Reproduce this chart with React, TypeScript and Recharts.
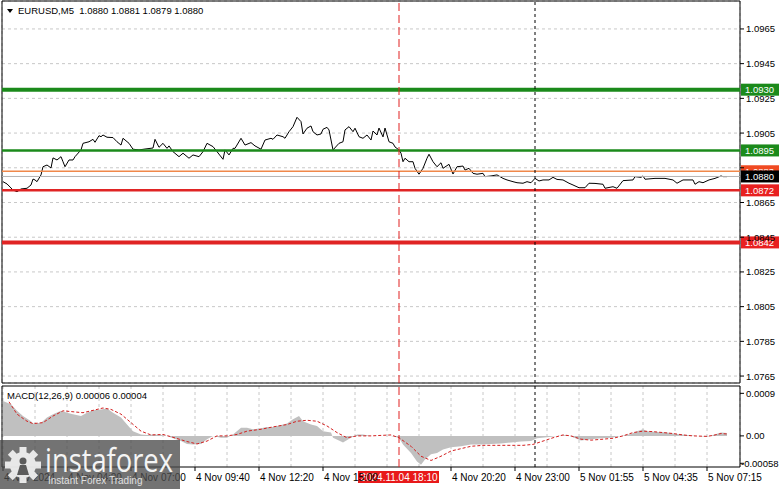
import React from 'react';
import {
  ComposedChart,
  Line,
  Area,
  XAxis,
  YAxis,
  CartesianGrid,
  ReferenceLine,
  ReferenceArea,
} from 'recharts';

const FONT = '"Liberation Sans", Arial, sans-serif';

// ---------- text ----------
const symbolTitle = 'EURUSD,M5  1.0880 1.0881 1.0879 1.0880';
const macdTitle = 'MACD(12,26,9) 0.00006 0.00004';

// ---------- price (bar index, close) ----------
const pricePoints: [number, number][] = [
  [0, 1.0877], [2, 1.08757], [5, 1.08722], [7, 1.08712], [9, 1.08728], [12, 1.08732], [14, 1.08751],
  [15, 1.08785], [16, 1.0878], [17, 1.0877], [19, 1.08809], [20, 1.08856], [22, 1.08866], [24, 1.08849],
  [25, 1.08907], [27, 1.08895], [29, 1.08914], [30, 1.08885], [31, 1.08856], [33, 1.08895], [35, 1.08895],
  [36, 1.08914], [39, 1.08953], [40, 1.08991], [43, 1.09], [45, 1.09014], [46, 1.08997], [48, 1.09035],
  [49, 1.09029], [50, 1.09039], [52, 1.09026], [55, 1.09024], [57, 1.09], [59, 1.08981], [60, 1.0902],
  [63, 1.08991], [65, 1.08957], [68, 1.08953], [71, 1.08958], [75, 1.08964], [76, 1.09014], [78, 1.08968],
  [80, 1.08991], [82, 1.08962], [83, 1.08976], [85, 1.08943], [88, 1.08914], [90, 1.08934], [93, 1.08905],
  [95, 1.08924], [98, 1.08914], [100, 1.08943], [102, 1.08991], [105, 1.08972], [107, 1.08943], [110, 1.08899],
  [111, 1.08953], [113, 1.08924], [115, 1.08962], [116, 1.08962], [119, 1.0902], [121, 1.08981], [124, 1.08995],
  [126, 1.08976], [129, 1.08957], [131, 1.0901], [134, 1.0902], [135, 1.09014], [137, 1.09039], [140, 1.09029],
  [141, 1.0902], [143, 1.09058], [145, 1.09087], [147, 1.09141], [149, 1.09116], [150, 1.09045], [152, 1.09078],
  [154, 1.09091], [155, 1.09058], [157, 1.09039], [159, 1.09045], [160, 1.09072], [162, 1.09083], [163, 1.09068],
  [165, 1.08953], [168, 1.08991], [170, 1.09], [171, 1.09068], [173, 1.09087], [175, 1.09058], [176, 1.09078],
  [178, 1.09029], [180, 1.0902], [182, 1.09039], [184, 1.0901], [185, 1.09062], [187, 1.09039], [188, 1.09079],
  [190, 1.09028], [191, 1.09079], [193, 1.09], [195, 1.08991], [196, 1.0897], [198, 1.08953], [199, 1.08934],
  [200, 1.08885], [201, 1.08905], [203, 1.08885], [205, 1.08885], [206, 1.08847], [208, 1.08813], [210, 1.08847],
  [212, 1.08905], [213, 1.08928], [215, 1.08885], [217, 1.08856], [219, 1.08879], [220, 1.08847], [223, 1.0887],
  [225, 1.08814], [227, 1.08856], [230, 1.0886], [231, 1.08837], [233, 1.08847], [235, 1.08818], [237, 1.08813],
  [240, 1.08818], [241, 1.08799], [244, 1.08803], [247, 1.08809], [250, 1.08789], [252, 1.0878], [255, 1.0877],
  [257, 1.08764], [260, 1.08761], [262, 1.0877], [264, 1.08764], [266, 1.08789], [268, 1.08774], [270, 1.0878],
  [273, 1.0878], [275, 1.08795], [277, 1.08783], [280, 1.0878], [283, 1.08761], [285, 1.08751], [288, 1.08735],
  [291, 1.08735], [293, 1.08761], [296, 1.0876], [300, 1.08755], [301, 1.08732], [305, 1.08741], [307, 1.08732],
  [310, 1.08776], [315, 1.0878], [316, 1.08799], [319, 1.08795], [320, 1.08803], [321, 1.08784], [326, 1.08789],
  [331, 1.08789], [335, 1.0878], [337, 1.08761], [340, 1.0878], [343, 1.0878], [345, 1.0878], [346, 1.08755],
  [348, 1.0877], [350, 1.08764], [353, 1.0878], [356, 1.08789], [359, 1.08803], [360, 1.08799], [362, 1.08799],
];

// ---------- MACD histogram (bar index, value) ----------
const histPoints: [number, number][] = [
  [0, 0.00074], [4, 0.00067], [7, 0.00053], [10, 0.00042], [14, 0.00031], [15, 0.00026], [19, 0.00028],
  [22, 0.00039], [25, 0.00046], [29, 0.00053], [32, 0.00049], [35, 0.00046], [39, 0.00042], [42, 0.00049],
  [45, 0.00054], [49, 0.00056], [52, 0.00058], [55, 0.00049], [59, 0.00039], [62, 0.00024], [65, 0.0001],
  [69, 0.00003], [72, 0.00002], [75, 0.00003], [79, 0.00002], [82, 0], [85, -0.00005], [89, -0.00011],
  [92, -0.00017], [95, -0.00018], [99, -0.00017], [102, -0.00007], [105, 0], [109, -0.00004], [112, -0.00004],
  [115, 0.00003], [119, 0.00017], [122, 0.00017], [125, 0.00014], [129, 0.00016], [132, 0.00019], [135, 0.00019],
  [139, 0.00023], [142, 0.00026], [145, 0.00035], [148, 0.00042], [150, 0.00031], [154, 0.00024], [157, 0.00021],
  [160, 0.0001], [164, 0.00007], [165, -0.00004], [169, -0.00012], [170, -0.00014], [174, -0.00004], [177, 0.00003],
  [180, 0.00003], [184, 0], [194, 0], [198, -0.00004], [200, -0.00018], [204, -0.00036], [207, -0.00054],
  [209, -0.00061], [211, -0.0005], [214, -0.00039], [217, -0.00036], [220, -0.00029], [224, -0.00024],
  [229, -0.00022], [234, -0.00018], [239, -0.00018], [244, -0.00017], [249, -0.00016], [254, -0.00014],
  [259, -0.00012], [264, -0.00011], [267, -0.00005], [272, -0.00003], [277, 0], [282, 0.00002], [285, -0.00003],
  [289, -0.0001], [294, -0.00007], [299, -0.00005], [304, -0.00004], [309, 0], [314, 0.00004], [317, 0.0001],
  [320, 0.00014], [322, 0.0001], [327, 0.00008], [332, 0.00007], [337, 0.00004], [342, 0.00002], [347, 0],
  [352, -0.00002], [355, 0.00002], [359, 0.00007], [362, 0.00006],
];

// ---------- MACD signal (bar index, value) ----------
const signalPoints: [number, number][] = [
  [3, 0.00072], [7, 0.00046], [12, 0.00031], [15, 0.00026], [20, 0.00028], [25, 0.00042], [30, 0.00053],
  [35, 0.00051], [40, 0.00049], [45, 0.00054], [50, 0.00059], [54, 0.00056], [59, 0.00046], [64, 0.00028],
  [69, 0.0001], [74, 0.00002], [80, 0.00003], [85, -0.00003], [92, -0.00012], [97, -0.00017], [102, -0.00011],
  [107, 0], [112, 0], [117, 0.00003], [122, 0.0001], [129, 0.00014], [135, 0.00019], [142, 0.00024],
  [147, 0.00031], [152, 0.00033], [157, 0.00031], [162, 0.00021], [167, 0.00007], [172, -0.00004], [177, 0],
  [184, 0], [194, 0.00002], [198, -0.00004], [204, -0.00022], [209, -0.00043], [214, -0.00052], [219, -0.00043],
  [224, -0.00032], [229, -0.00027], [234, -0.00022], [240, -0.0002], [247, -0.0002], [254, -0.0002],
  [260, -0.0002], [265, -0.00018], [270, -0.00011], [275, -0.00004], [280, 0.00002], [284, 0], [289, -0.00007],
  [294, -0.00009], [300, -0.00007], [305, -0.00005], [310, 0], [315, 0.00007], [320, 0.0001], [325, 0.00009],
  [330, 0.00007], [335, 0.00005], [340, 0.00002], [345, 0], [352, -0.00001], [355, 0.00001], [359, 0.00005],
  [362, 0.00004],
];

// ---------- axes ----------
const priceTicks = [1.0765, 1.0785, 1.0805, 1.0825, 1.0845, 1.0865, 1.0885, 1.0905, 1.0925, 1.0945, 1.0965];
const macdTicks = [-0.00058, 0, 0.0009];
const macdTickLabels = ['-0.00058', '0.00', '0.0009'];

const gridBars = [0, 16, 32, 48, 64, 80, 96, 112, 128, 144, 160, 176, 192, 208, 224, 240, 256, 272, 288, 304, 320, 336, 352];
const timeBars = [0, 32, 64, 96, 128, 160, 192, 224, 256, 288, 320, 352];
const timeLabels = [
  '4 Nov 2024', '4 Nov 04:20', '4 Nov 07:00', '4 Nov 09:40', '4 Nov 12:20', '4 Nov 15:00',
  '', '4 Nov 20:20', '4 Nov 23:00', '5 Nov 01:55', '5 Nov 04:35', '5 Nov 07:15',
];

// ---------- horizontal levels ----------
const levelValues = [1.093, 1.0895, 1.0883, 1.088, 1.0872, 1.0842];
const levelStyles = [
  { line: '#1b8a1b', width: 4, tag: '#1b8a1b', text: '#ffffff' },
  { line: '#1b8a1b', width: 2.5, tag: '#1b8a1b', text: '#ffffff' },
  { line: '#f0884a', width: 1.3, tag: '#f04a22', text: '#ffffff' },
  { line: '#b4b4b4', width: 1, tag: '#000000', text: '#ffffff' },
  { line: '#e02424', width: 2.5, tag: '#e82020', text: '#ffffff' },
  { line: '#e02424', width: 4, tag: '#e82020', text: '#ffffff' },
];

const markerBar = 198;
const markerLabel = '2024.11.04 18:10';
const cursorBar = 266;

const X_DOMAIN: [number, number] = [-0.5, 368.5];
const PRICE_DOMAIN: [number, number] = [1.0761, 1.09811];
const MACD_DOMAIN: [number, number] = [-0.000658, 0.001055];

const mainData = pricePoints.map(([bar, price]) => ({ bar, price }));
const macdData = (() => {
  const map = new Map<number, { bar: number; hist?: number; signal?: number }>();
  histPoints.forEach(([bar, v]) => {
    const r = map.get(bar) || { bar };
    r.hist = v;
    map.set(bar, r);
  });
  signalPoints.forEach(([bar, v]) => {
    const r = map.get(bar) || { bar };
    r.signal = v;
    map.set(bar, r);
  });
  return Array.from(map.values()).sort((a, b) => a.bar - b.bar);
})();

const PriceTag = (props: any) => {
  const { viewBox, text, bg, fg } = props;
  if (!viewBox) return null;
  const x = viewBox.x + viewBox.width + 1;
  const y = viewBox.y;
  return (
    <g>
      <rect x={x} y={y - 6} width={38} height={12} fill={bg} />
      <text x={x + 4} y={y + 3.5} fontSize={9.5} fill={fg} fontFamily={FONT}>
        {text}
      </text>
    </g>
  );
};

const TimeTag = (props: any) => {
  const { viewBox, text } = props;
  if (!viewBox) return null;
  const cx = viewBox.x;
  const yb = viewBox.y + viewBox.height;
  return (
    <g>
      <rect x={cx - 41} y={yb + 4} width={81} height={12} fill="#e8191a" />
      <text x={cx} y={yb + 13.5} textAnchor="middle" fontSize={10} fill="#ffffff" fontFamily={FONT}>
        {text}
      </text>
    </g>
  );
};

const PriceTick = (props: any) => {
  const { x, y, payload } = props;
  const v = payload.value as number;
  const hidden = levelValues.some((l) => Math.abs(l - v) < 0.00025);
  if (hidden) return <g />;
  return (
    <text x={x} y={y + 3.5} fontSize={9.5} fill="#000" fontFamily={FONT} textAnchor="start">
      {v.toFixed(4)}
    </text>
  );
};

const MacdTick = (props: any) => {
  const { x, y, payload } = props;
  const idx = macdTicks.indexOf(payload.value);
  const label = idx >= 0 ? macdTickLabels[idx] : '';
  const shift = label.startsWith('-') ? -5 : 0;
  return (
    <text x={x + shift} y={y + 3.5} fontSize={9.5} fill="#000" fontFamily={FONT} textAnchor="start">
      {label}
    </text>
  );
};

const TimeTick = (props: any) => {
  const { x, y, payload } = props;
  const idx = timeBars.indexOf(payload.value);
  if (idx < 0 || !timeLabels[idx]) return <g />;
  return (
    <g>
      <line x1={x} y1={y} x2={x} y2={y + 4} stroke="#000" />
      <text x={x + 1} y={y + 14} fontSize={10} fill="#000" fontFamily={FONT} textAnchor="start">
        {timeLabels[idx]}
      </text>
    </g>
  );
};

const Watermark = () => {
  const cx = 23;
  const cy = 465;
  const teeth = [0, 45, 90, 135, 180, 225, 270, 315];
  return (
    <g>
      <rect x={0} y={440} width={180} height={49} fill="#4c4c4c" opacity={0.78} />
      <g opacity={0.92}>
        {teeth.map((a) => (
          <rect
            key={a}
            x={cx - 3.5}
            y={cy - 18}
            width={7}
            height={9}
            fill="#f2f2f2"
            transform={`rotate(${a} ${cx} ${cy})`}
          />
        ))}
        <circle cx={cx} cy={cy} r={13} fill="#f2f2f2" />
        <circle cx={cx} cy={cy - 4} r={3.5} fill="#5a5a5a" />
        <path d={`M${cx - 6} ${cy + 10} L${cx - 3} ${cy} L${cx + 3} ${cy} L${cx + 6} ${cy + 10} Z`} fill="#5a5a5a" />
      </g>
      <text
        x={45}
        y={472}
        fontSize={32}
        fill="#f4f4f4"
        fontFamily='"Open Sans", "Noto Sans", sans-serif'
        textLength={128}
        lengthAdjust="spacingAndGlyphs"
      >
        instaforex
      </text>
      <text x={48} y={484} fontSize={10} fill="#e0e0e0" fontFamily={FONT}>
        Instant Forex Trading
      </text>
    </g>
  );
};

export default function App() {
  return (
    <div style={{ position: 'absolute', left: 0, top: 0, width: 781, height: 489, background: '#fff', overflow: 'hidden' }}>
      <div style={{ position: 'absolute', left: 0, top: 0 }}>
        <ComposedChart
          width={781}
          height={385}
          data={mainData}
          margin={{ top: 1, right: 0, bottom: 2, left: 2 }}
          style={{ fontFamily: FONT }}
        >
          <CartesianGrid stroke="#c8c8c8" strokeDasharray="3 3" />
          <XAxis
            type="number"
            dataKey="bar"
            domain={X_DOMAIN}
            allowDataOverflow
            ticks={gridBars}
            interval={0}
            height={0}
            tick={false}
            axisLine={false}
            tickLine={false}
          />
          <YAxis
            orientation="right"
            width={41}
            type="number"
            domain={PRICE_DOMAIN}
            allowDataOverflow
            ticks={priceTicks}
            interval={0}
            axisLine={false}
            tickLine={{ stroke: '#000' }}
            tickSize={4}
            tickMargin={2}
            tick={<PriceTick />}
          />
          <Line
            type="linear"
            dataKey="price"
            stroke="#000"
            strokeWidth={1}
            dot={false}
            isAnimationActive={false}
          />
          {levelValues.map((v, i) => (
            <ReferenceLine
              key={v}
              y={v}
              stroke={levelStyles[i].line}
              strokeWidth={levelStyles[i].width}
              label={<PriceTag text={v.toFixed(4)} bg={levelStyles[i].tag} fg={levelStyles[i].text} />}
            />
          ))}
          <ReferenceLine x={markerBar} stroke="#e02020" strokeDasharray="8 4" strokeWidth={1} />
          <ReferenceLine x={cursorBar} stroke="#000" strokeDasharray="3 3" strokeWidth={1} />
          <ReferenceArea
            x1={X_DOMAIN[0]}
            x2={X_DOMAIN[1]}
            y1={PRICE_DOMAIN[0]}
            y2={PRICE_DOMAIN[1]}
            fill="none"
            fillOpacity={0}
            stroke="#000"
            strokeWidth={1}
            ifOverflow="visible"
          />
        </ComposedChart>
      </div>
      <div style={{ position: 'absolute', left: 0, top: 385 }}>
        <ComposedChart
          width={781}
          height={104}
          data={macdData}
          margin={{ top: 1, right: 0, bottom: 0, left: 2 }}
          style={{ fontFamily: FONT }}
        >
          <CartesianGrid stroke="#c8c8c8" strokeDasharray="3 3" horizontal={false} />
          <XAxis
            type="number"
            dataKey="bar"
            domain={X_DOMAIN}
            allowDataOverflow
            ticks={gridBars}
            interval={0}
            height={22}
            axisLine={false}
            tickLine={false}
            tickSize={0}
            tickMargin={0}
            tick={<TimeTick />}
          />
          <YAxis
            orientation="right"
            width={41}
            type="number"
            domain={MACD_DOMAIN}
            allowDataOverflow
            ticks={macdTicks}
            interval={0}
            axisLine={false}
            tickLine={{ stroke: '#000' }}
            tickSize={4}
            tickMargin={2}
            tick={<MacdTick />}
          />
          <Area
            type="linear"
            dataKey="hist"
            baseValue={0}
            stroke="none"
            fill="#c0c0c0"
            fillOpacity={1}
            connectNulls
            isAnimationActive={false}
          />
          <Line
            type="linear"
            dataKey="signal"
            stroke="#d42020"
            strokeDasharray="3 2"
            strokeWidth={1}
            dot={false}
            connectNulls
            isAnimationActive={false}
          />
          <ReferenceLine
            x={markerBar}
            stroke="#e02020"
            strokeDasharray="8 4"
            strokeWidth={1}
            label={<TimeTag text={markerLabel} />}
          />
          <ReferenceLine x={cursorBar} stroke="#000" strokeDasharray="3 3" strokeWidth={1} />
          <ReferenceArea
            x1={X_DOMAIN[0]}
            x2={X_DOMAIN[1]}
            y1={MACD_DOMAIN[0]}
            y2={MACD_DOMAIN[1]}
            fill="none"
            fillOpacity={0}
            stroke="#000"
            strokeWidth={1}
            ifOverflow="visible"
          />
        </ComposedChart>
      </div>
      <svg
        width={781}
        height={489}
        style={{ position: 'absolute', left: 0, top: 0, pointerEvents: 'none' }}
      >
        <polygon points="7,9 13,9 10,13" fill="#000" />
        <text x={18} y={14} fontSize={9.5} fill="#000" fontFamily={FONT} xmlSpace="preserve">
          {symbolTitle}
        </text>
        <text x={7} y={398.5} fontSize={9.5} fill="#000" fontFamily={FONT}>
          {macdTitle}
        </text>
        <Watermark />
      </svg>
    </div>
  );
}
